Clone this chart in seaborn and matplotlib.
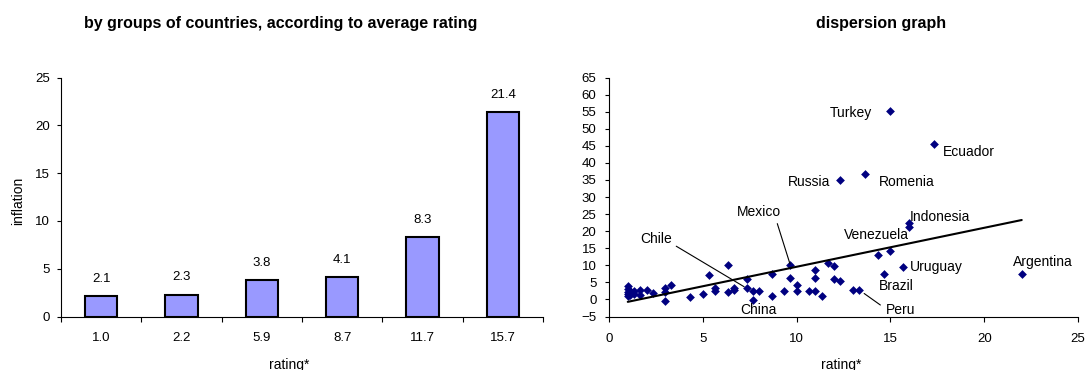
import numpy as np
import matplotlib
matplotlib.use("Agg")
import matplotlib.pyplot as plt
import seaborn as sns

# Average inflation by group of countries (groups ordered by average rating)
group_rating = ["1.0", "2.2", "5.9", "8.7", "11.7", "15.7"]
group_inflation = [2.1, 2.3, 3.8, 4.1, 8.3, 21.4]

# Country level: rating vs inflation
rating = [1.0, 1.0, 1.0, 1.0, 1.0, 1.1, 1.1, 1.33, 1.33, 1.67,
          1.67, 2.0, 2.33, 3.0, 3.0, 3.0, 3.33, 4.33, 5.0, 5.33,
          5.67, 5.67, 6.33, 6.33, 6.67, 6.67, 7.33, 7.33, 7.67, 7.67,
          8.0, 8.67, 8.67, 9.33, 9.67, 9.67, 10.0, 10.0, 10.67, 11.0,
          11.0, 11.0, 11.33, 11.67, 12.0, 12.0, 12.33, 12.33, 13.0, 13.33,
          13.67, 14.33, 14.67, 15.0, 15.0, 15.67, 16.0, 16.0, 17.33, 22.0]
inflation = [3.8, 3.0, 2.3, 1.6, 0.9, 2.6, 1.3, 2.4, 1.6, 2.8,
             1.3, 2.8, 1.8, 3.3, 2.3, -0.6, 4.3, 0.7, 1.6, 7.3,
             3.3, 2.5, 10.0, 2.2, 3.4, 2.7, 6.1, 3.3, 2.4, -0.3,
             2.5, 7.4, 1.1, 2.4, 10.0, 6.4, 4.3, 2.4, 2.4, 8.5,
             6.3, 2.6, 1.0, 10.7, 9.8, 5.9, 5.4, 35.0, 2.8, 2.8,
             36.8, 13.1, 7.4, 14.1, 55.3, 9.5, 22.3, 21.3, 45.5, 7.5]
country = [""] * len(rating)
for idx, name in [(27, "Chile"), (29, "China"), (34, "Mexico"), (47, "Russia"),
                  (49, "Peru"), (50, "Romenia"), (52, "Brazil"), (53, "Venezuela"),
                  (54, "Turkey"), (55, "Uruguay"), (57, "Indonesia"),
                  (58, "Ecuador"), (59, "Argentina")]:
    country[idx] = name

# Label placement (data coordinates) and alignment
label_layout = {
    "Turkey": (14.0, 54.7, "right"),
    "Ecuador": (17.8, 43.2, "left"),
    "Russia": (11.82, 34.4, "right"),
    "Romenia": (14.38, 34.4, "left"),
    "Indonesia": (16.04, 24.1, "left"),
    "Venezuela": (14.26, 18.8, "center"),
    "Uruguay": (16.04, 9.4, "left"),
    "Brazil": (14.38, 3.8, "left"),
    "Argentina": (23.13, 10.9, "center"),
    "China": (7.97, -3.2, "center"),
    "Chile": (2.5, 17.6, "center"),
    "Mexico": (8.0, 25.6, "center"),
    "Peru": (14.76, -3.2, "left"),
}
leader_style = {
    "Chile": dict(relpos=(1.0, 0.2), shrinkA=1, shrinkB=2),
    "Mexico": dict(relpos=(0.88, 0.0), shrinkA=1, shrinkB=1),
    "Peru": dict(relpos=(0.0, 0.6), shrinkA=2, shrinkB=4.5),
}

sns.set_style("ticks")
plt.rcParams["font.family"] = ["Liberation Sans", "DejaVu Sans"]
plt.rcParams["axes.edgecolor"] = "black"
plt.rcParams["xtick.color"] = "black"
plt.rcParams["ytick.color"] = "black"
plt.rcParams["text.color"] = "black"
plt.rcParams["axes.labelcolor"] = "black"
plt.rcParams["xtick.labelcolor"] = "black"
plt.rcParams["ytick.labelcolor"] = "black"
plt.rcParams["axes.linewidth"] = 0.8

W, H = 1086, 370
fig = plt.figure(figsize=(W / 100, H / 100), dpi=100)
fig.patch.set_facecolor("white")

ax1 = fig.add_axes([61 / W, (H - 316.5) / H, 482 / W, 239 / H])
ax2 = fig.add_axes([609 / W, (H - 316.5) / H, 469 / W, 239 / H])

FS = 9.5

# ---- bar chart ----
sns.barplot(x=group_rating, y=group_inflation, order=group_rating,
            color="#9999FF", saturation=1, edgecolor="black", linewidth=1.5,
            width=0.4, ax=ax1)
ax1.bar_label(ax1.containers[0], fmt="%.1f", padding=8, fontsize=FS)
ax1.set_xlim(-0.5, 5.5)
ax1.set_ylim(0, 25)
ax1.set_yticks(np.arange(0, 26, 5))
ax1.set_xticks(range(len(group_rating)))
ax1.set_xticklabels(group_rating)
ax1.set_xticks(np.arange(-0.5, len(group_rating), 1.0), minor=True)
ax1.tick_params(axis="x", which="major", length=0, pad=11.5, labelsize=FS)
ax1.tick_params(axis="x", which="minor", length=3.5, width=0.8, direction="out")
ax1.tick_params(axis="y", length=3, width=0.8, pad=5, labelsize=FS)
ax1.set_ylabel("inflation", fontsize=10)
ax1.set_xlabel("rating*", fontsize=10)
ax1.yaxis.set_label_coords(-0.075, 0.485)
ax1.xaxis.set_label_coords(0.473, -0.172)
sns.despine(ax=ax1)

# ---- dispersion graph ----
sns.scatterplot(x=rating, y=inflation, marker="D", color="#000080", s=20,
                linewidth=0, ax=ax2, zorder=3)
sns.regplot(x=rating, y=inflation, scatter=False, ci=None, truncate=True,
            color="black", line_kws=dict(lw=1.5, zorder=4), ax=ax2)
ax2.set_xlim(0, 25)
ax2.set_ylim(-5, 65)
ax2.set_xticks(np.arange(0, 26, 5))
ax2.set_yticks(np.arange(-5, 66, 5))
ax2.tick_params(axis="x", length=3.5, width=0.8, pad=8.3, labelsize=FS)
ax2.tick_params(axis="y", length=3, width=0.8, pad=6, labelsize=FS)
ax2.set_xlabel("rating*", fontsize=10)
ax2.set_ylabel("")
ax2.xaxis.set_label_coords(0.495, -0.172)
sns.despine(ax=ax2)

for name, (tx, ty, ha) in label_layout.items():
    i = country.index(name)
    if name in leader_style:
        ax2.annotate(name, xy=(rating[i], inflation[i]), xytext=(tx, ty),
                     ha=ha, va="center", fontsize=10, zorder=5,
                     arrowprops=dict(arrowstyle="-", lw=0.8, color="black",
                                     **leader_style[name]))
    else:
        ax2.text(tx, ty, name, ha=ha, va="center", fontsize=10, zorder=5)

fig.text(280.5 / W, (H - 27.7) / H,
         "by groups of countries, according to average rating",
         ha="center", va="baseline", fontsize=11.5, fontweight="bold")
fig.text(881 / W, (H - 27.7) / H, "dispersion graph",
         ha="center", va="baseline", fontsize=11.5, fontweight="bold")

fig.savefig("out.png", dpi=100, facecolor="white")
